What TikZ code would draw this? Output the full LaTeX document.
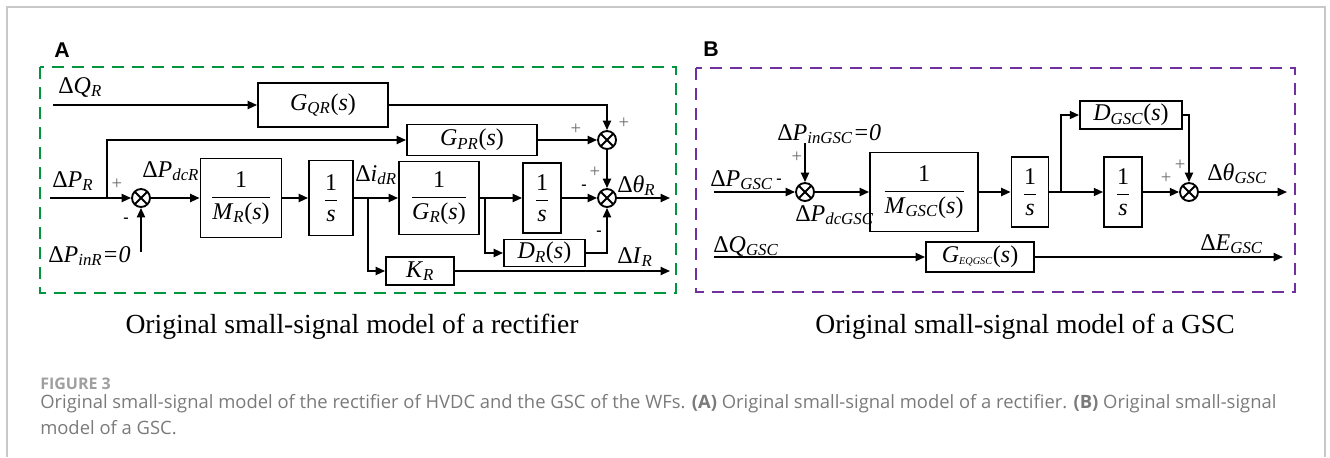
\documentclass[tikz,border=0pt]{standalone}
\usepackage{fontspec}
\setmainfont{Liberation Serif}
\newfontfamily\letrafont{Liberation Sans}
\newfontfamily\capfont{Open Sans}
\usepackage{tikz}
\usetikzlibrary{arrows.meta,positioning}
\definecolor{verdemarco}{RGB}{0,150,64}
\definecolor{moradomarco}{RGB}{112,48,160}
\definecolor{grisleyenda}{RGB}{122,122,122}
\definecolor{grismarco}{RGB}{200,200,200}
\newcommand{\senal}[2]{Δ\textit{#1}\textsubscript{\textit{#2}}}
\newcommand{\fracbloque}[1]{$\displaystyle\frac{\mbox{1}}{\mbox{#1}}$}
\tikzset{
  bloque/.style={
    draw,
    line width=1.4pt,
    inner sep=0pt,
    align=center,
    font=\fontsize{18}{20}\selectfont
  },
  suma/.style={
    circle,
    draw,
    line width=1.4pt,
    minimum size=13.5pt,
    inner sep=0pt,
    path picture={
      \draw[line width=1.4pt] (path picture bounding box.north west) -- (path picture bounding box.south east);
      \draw[line width=1.4pt] (path picture bounding box.north east) -- (path picture bounding box.south west);
    }
  },
  etiqueta/.style={
    anchor=base west,
    inner sep=0pt,
    font=\fontsize{18}{20}\selectfont
  },
  signo/.style={
    inner sep=0pt,
    black!60,
    font=\fontsize{14}{14}\selectfont
  },
  menos/.style={
    inner sep=0pt,
    font=\fontsize{12}{12}\selectfont\bfseries
  },
  marco/.style={
    line width=1.3pt,
    dash pattern=on 9pt off 6pt
  },
  letra/.style={
    inner sep=0pt,
    font=\letrafont\fontsize{16}{16}\selectfont\bfseries
  },
  titulo/.style={
    inner sep=0pt,
    font=\fontsize{20.7}{22}\selectfont
  },
  leyenda/.style={
    anchor=base west,
    inner sep=0pt,
    grisleyenda,
    font=\capfont\fontsize{13.8}{15}\selectfont
  },
  arrow/.style={
    -{Triangle[length=7pt,width=6pt]},
    line width=1.4pt
  }
}

\begin{document}
\begin{tikzpicture}[x=0.75pt,y=-0.75pt]
\useasboundingbox (0,0) rectangle (1330,457);
\draw[grismarco, line width=0.8pt] (7,457) -- (7,7) -- (1325,7) -- (1325,457);

% A: rectificador
\node[letra] (letraA) at (62,50) {A};
\draw[marco, draw=verdemarco] (40,67) rectangle (676,293);

\node[bloque, minimum width=97.5pt, minimum height=33pt] (GQR) at (323,105) {\textit{G}\textsubscript{\textit{QR}}(\textit{s})};
\node[bloque, minimum width=97.5pt, minimum height=23.25pt] (GPR) at (472,140) {\textit{G}\textsubscript{\textit{PR}}(\textit{s})};
\node[bloque, minimum width=60.75pt, minimum height=59.25pt] (MR) at (241,198) {\fracbloque{\textit{M}\textsubscript{\textit{R}}(\textit{s})}};
\node[bloque, minimum width=33pt, minimum height=56.25pt] (int1) at (331,198) {\fracbloque{\textit{s}}};
\node[bloque, minimum width=60pt, minimum height=54.75pt] (GR) at (439,198) {\fracbloque{\textit{G}\textsubscript{\textit{R}}(\textit{s})}};
\node[bloque, minimum width=28.5pt, minimum height=52.5pt] (int2) at (542,198) {\fracbloque{\textit{s}}};
\node[bloque, minimum width=60.75pt, minimum height=20.25pt] (DR) at (544.5,253) {\textit{D}\textsubscript{\textit{R}}(\textit{s})};
\node[bloque, minimum width=51pt, minimum height=21pt] (KR) at (420,271) {\textit{K}\textsubscript{\textit{R}}};

\node[suma] (s0) at (141,198) {};
\node[suma] (s1) at (607,140) {};
\node[suma] (s2) at (607,198) {};

\coordinate (eQ) at (53,105);
\coordinate (eP) at (50,198);
\coordinate (rP) at (107,198);
\coordinate (eIn) at (141,252);
\coordinate (rI) at (368,198);
\coordinate (rG) at (485,198);
\coordinate (sT) at (670,198);
\coordinate (sI) at (670,271);

\draw[arrow] (eQ) -- (GQR);
\draw[arrow] (GQR) -| (s1);
\draw[arrow] (eP) -- (s0);
\draw[arrow] (rP) |- (GPR);
\draw[arrow] (GPR) -- (s1);
\draw[arrow] (eIn) -- (s0);
\draw[arrow] (s0) -- (MR);
\draw[arrow] (MR) -- (int1);
\draw[arrow] (int1) -- (GR);
\draw[arrow] (rI) |- (KR);
\draw[arrow] (GR) -- (int2);
\draw[arrow] (rG) |- (DR);
\draw[arrow] (int2) -- (s2);
\draw[arrow] (DR) -| (s2);
\draw[arrow] (s1) -- (s2);
\draw[arrow] (s2) -- (sT);
\draw[arrow] (KR) -- (sI);

\node[etiqueta] (lQR) at (58,93) {\senal{Q}{R}};
\node[etiqueta] (lPR) at (52,187) {\senal{P}{R}};
\node[etiqueta] (lPdc) at (142,177) {\senal{P}{dcR}};
\node[etiqueta] (lPin) at (48,262) {\senal{P}{inR}\textit{=0}};
\node[etiqueta] (liR) at (355,181) {Δ\textit{i}\textsubscript{\textit{dR}}};
\node[etiqueta] (ltR) at (617,192) {Δ\textit{θ}\textsubscript{\textit{R}}};
\node[etiqueta] (lIR) at (617,263) {\senal{I}{R}};

\node[signo] (p1) at (117,184) {+};
\node[menos] (n1) at (126,220) {-};
\node[signo] (p2) at (624,123) {+};
\node[signo] (p3) at (576,129) {+};
\node[signo] (p4) at (595,172) {+};
\node[menos] (n2) at (584,187) {-};
\node[menos] (n3) at (599,233) {-};

% B: GSC
\node[letra] (letraB) at (711,49) {B};
\draw[marco, draw=moradomarco] (696,68) rectangle (1295,292);

\node[bloque, minimum width=81pt, minimum height=59.25pt] (MG) at (924,192) {\fracbloque{\textit{M}\textsubscript{\textit{GSC}}(\textit{s})}};
\node[bloque, minimum width=27.75pt, minimum height=52.5pt] (intB1) at (1030,192) {\fracbloque{\textit{s}}};
\node[bloque, minimum width=76.5pt, minimum height=21pt] (DG) at (1131,115) {\textit{D}\textsubscript{\textit{GSC}}(\textit{s})};
\node[bloque, minimum width=28.5pt, minimum height=52.5pt] (intB2) at (1123,192) {\fracbloque{\textit{s}}};
\node[bloque, minimum width=81pt, minimum height=22.5pt] (GEQ) at (980,257) {\textit{G}{\fontsize{11}{11}\selectfont\textsubscript{\textit{EQGSC}}}(\textit{s})};

\node[suma] (sB) at (805,192) {};
\node[suma] (sB2) at (1189,192) {};

\coordinate (ePG) at (714,192);
\coordinate (eInG) at (805,143);
\coordinate (rB) at (1061,192);
\coordinate (sTG) at (1287,192);
\coordinate (eQG) at (714,257);
\coordinate (sE) at (1283,257);

\draw[arrow] (ePG) -- (sB);
\draw[arrow] (eInG) -- (sB);
\draw[arrow] (sB) -- (MG);
\draw[arrow] (MG) -- (intB1);
\draw[arrow] (intB1) -- (intB2);
\draw[arrow] (rB) |- (DG);
\draw[arrow] (DG) -| (sB2);
\draw[arrow] (intB2) -- (sB2);
\draw[arrow] (sB2) -- (sTG);
\draw[arrow] (eQG) -- (GEQ);
\draw[arrow] (GEQ) -- (sE);

\node[etiqueta] (lPG) at (710,186) {\senal{P}{GSC}};
\node[etiqueta] (lPinG) at (777,140) {\senal{P}{inGSC}\textit{=0}};
\node[etiqueta] (lPdcG) at (795,221) {\senal{P}{dcGSC}};
\node[etiqueta] (ltG) at (1207,180) {Δ\textit{θ}\textsubscript{\textit{GSC}}};
\node[etiqueta] (lEG) at (1200,250) {\senal{E}{GSC}};
\node[etiqueta] (lQG) at (713,252) {\senal{Q}{GSC}};

\node[menos] (n4) at (779,181) {-};
\node[signo] (p5) at (797,157) {+};
\node[signo] (p6) at (1180,165) {+};
\node[signo] (p7) at (1166,178) {+};

% titulos y leyenda
\node[titulo] (tA) at (352,327) {Original small-signal model of a rectifier};
\node[titulo] (tB) at (1025,327) {Original small-signal model of a GSC};
\node[leyenda, font=\capfont\fontsize{12}{13}\selectfont\bfseries, grisleyenda!130!black] (fig) at (40,389) {FIGURE 3};
\node[leyenda] (cap1) at (40,408) {Original small-signal model of the rectifier of HVDC and the GSC of the WFs. \textbf{(A)} Original small-signal model of a rectifier. \textbf{(B)} Original small-signal};
\node[leyenda] (cap2) at (40,434) {model of a GSC.};
\end{tikzpicture}
\end{document}
